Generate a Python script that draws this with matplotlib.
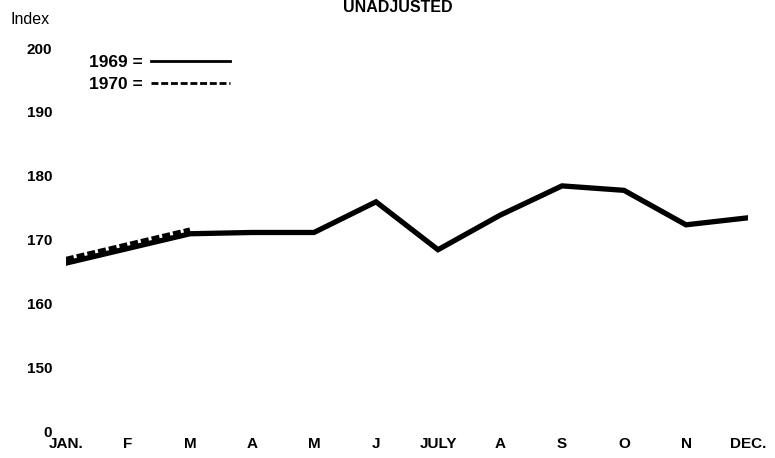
import matplotlib
matplotlib.use("Agg")
import matplotlib.pyplot as plt
from matplotlib.lines import Line2D

months = ["JAN.", "F", "M", "A", "M", "J", "JULY", "A", "S", "O", "N", "DEC."]
index_1969 = [166.3, 168.6, 170.9, 171.1, 171.1, 175.9, 168.4, 173.8, 178.4, 177.7, 172.3, 173.4]
index_1970 = [166.9, 169.2, 171.5]
ytick_values = [140, 150, 160, 170, 180, 190, 200]
ytick_labels = ["0", "150", "160", "170", "180", "190", "200"]

W, H = 775, 458
fig = plt.figure(figsize=(W / 100, H / 100), dpi=100)
ax = fig.add_axes([66 / W, 27 / H, (748 - 66) / W, (431 - 48) / H])

x = list(range(len(months)))
ax.plot(x, index_1969, color="black", lw=3.8, solid_joinstyle="miter", zorder=3)
ax.plot(x[:len(index_1970)], index_1970, color="black", lw=3.6,
        dashes=(1.6, 0.6), zorder=4)

ax.set_xlim(0, 11)
ax.set_ylim(140, 200)
ax.set_xticks(x)
ax.set_xticklabels(months)
ax.set_yticks(ytick_values)
ax.set_yticklabels(ytick_labels)
for s in ax.spines.values():
    s.set_visible(False)
ax.tick_params(axis="both", length=0)
ax.tick_params(axis="y", pad=10, labelsize=11)
ax.tick_params(axis="x", pad=4, labelsize=11)
for lab in ax.get_xticklabels() + ax.get_yticklabels():
    lab.set_fontfamily("Liberation Sans")
    lab.set_fontweight("bold")

fig.text(10 / W, 1 - 19 / H, "Index", fontsize=11.5, family="Liberation Sans",
         ha="left", va="center")
fig.text(398 / W, 1 - 8 / H, "UNADJUSTED", fontsize=11.5, family="Liberation Sans",
         fontweight="bold", ha="center", va="center")

handles = [Line2D([], [], color="black", lw=2.0),
           Line2D([], [], color="black", lw=2.0, dashes=(2.5, 1.0))]
leg = ax.legend(handles, ["1969 =", "1970 =", ], loc="upper left",
                bbox_to_anchor=(16 / 682, 1 + 0 / 383), markerfirst=False,
                frameon=False, handlelength=4.6, handletextpad=0.45,
                labelspacing=0.4, borderaxespad=0,
                prop={"family": "Liberation Sans", "weight": "bold", "size": 12.5})

fig.savefig("out.png", dpi=100)
